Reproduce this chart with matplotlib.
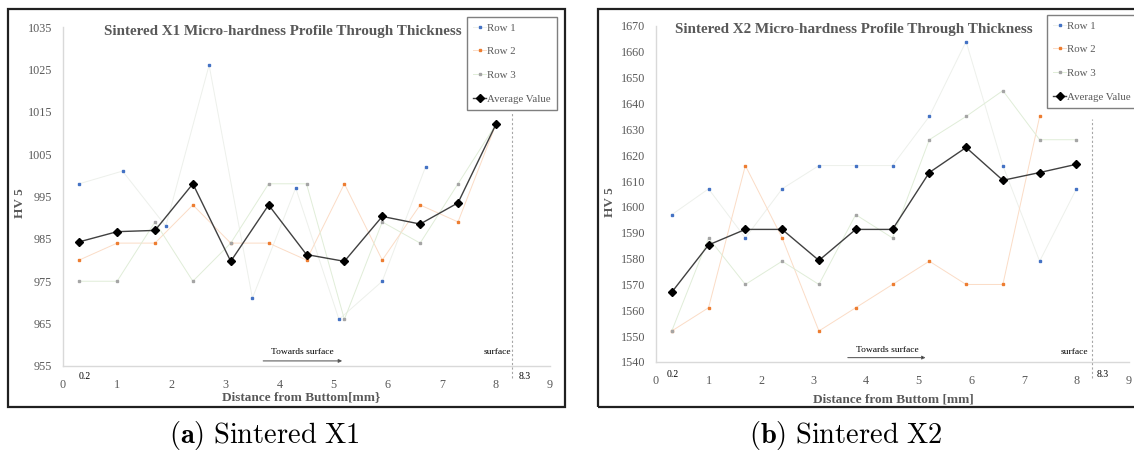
import matplotlib
matplotlib.use('Agg')
import matplotlib.pyplot as plt
from matplotlib.patches import Rectangle

# ---------------- data ----------------
x_pos = [0.3, 1.0, 1.7, 2.4, 3.1, 3.8, 4.5, 5.2, 5.9, 6.6, 7.3, 8.0]

x1_row1_x = [0.3, 1.1, 1.9, 2.7, 3.5, 4.3, 5.1, 5.9, 6.7]
x1_row1 = [998, 1001, 988, 1026, 971, 997, 966, 975, 1002]
x1_row2 = [980, 984, 984, 993, 984, 984, 980, 998, 980, 993, 989, 1012]
x1_row3 = [975, 975, 989, 975, 984, 998, 998, 966, 989, 984, 998, 1012]
x1_avg = [984.3, 986.7, 987.0, 998.0, 979.7, 993.0, 981.3, 979.7, 990.3, 988.5, 993.5, 1012.0]

x2_row1 = [1597, 1607, 1588, 1607, 1616, 1616, 1616, 1635, 1664, 1616, 1579, 1607]
x2_row2 = [1552, 1561, 1616, 1588, 1552, 1561, 1570, 1579, 1570, 1570, 1635]
x2_row3 = [1552, 1588, 1570, 1579, 1570, 1597, 1588, 1626, 1635, 1645, 1626, 1626]
x2_avg = [1567.0, 1585.3, 1591.3, 1591.3, 1579.3, 1591.3, 1591.3, 1613.3, 1623.0, 1610.3, 1613.3, 1616.5]

x_ticks = list(range(0, 10))
y1_ticks = list(range(955, 1036, 10))
y2_ticks = list(range(1540, 1671, 10))

series_labels = ['Row 1', 'Row 2', 'Row 3', 'Average Value']
titles = ['Sintered X1 Micro-hardness Profile Through Thickness',
          'Sintered X2 Micro-hardness Profile Through Thickness']
xlabels = ['Distance from Buttom[mm}', 'Distance from Buttom [mm]']
ylabel = 'HV 5'
captions = [r'$\mathbf{(a)}\ \mathrm{Sintered\ X1}$', r'$\mathbf{(b)}\ \mathrm{Sintered\ X2}$']

# ---------------- style ----------------
W, H = 1134, 459
plt.rcParams['font.family'] = ['Liberation Serif', 'DejaVu Serif']
plt.rcParams['mathtext.fontset'] = 'cm'

GRAY = '#595959'
C1, C2, C3 = '#4472C4', '#ED7D31', '#A5A5A5'
L1, L2, L3 = '#EDF0EB', '#FBDCC6', '#E0EDD8'

fig = plt.figure(figsize=(W / 100, H / 100), dpi=100)


def rect(x0, x1, ytop, ybot):
    return [x0 / W, 1 - ybot / H, (x1 - x0) / W, (ybot - ytop) / H]


def fx(px):
    return px / W


def fy(py):
    return 1 - py / H


# panel frames
fig.add_artist(Rectangle((fx(8), fy(407)), fx(565) - fx(8), fy(9) - fy(407),
                         transform=fig.transFigure, fill=False, ec='#202020', lw=1.6))
fig.add_artist(Rectangle((fx(598), fy(407)), fx(1145) - fx(598), fy(9) - fy(407),
                         transform=fig.transFigure, fill=False, ec='#202020', lw=1.6))

panels = [
    dict(rect=rect(63, 550, 27, 366), ylim=(955, 1035), yticks=y1_ticks,
         r1x=x1_row1_x, r1=x1_row1, r2=x1_row2, r3=x1_row3, avg=x1_avg,
         leg=(557, 17), title=(283, 31), xl=(301, 397), yl=(20, 203),
         dash=(952.2, 1014.7), arrow=(3.70, 5.16, 956.2), tow=(4.42, 958.4),
         surf=(8.02, 958.2), lab02=(0.41, -0.032), lab83=(8.54, -0.032)),
    dict(rect=rect(656, 1129, 26, 362), ylim=(1540, 1670), yticks=y2_ticks,
         r1x=x_pos, r1=x2_row1, r2=x2_row2, r3=x2_row3, avg=x2_avg,
         leg=(1137, 15), title=(854, 30), xl=(893, 399), yl=(610, 202),
         dash=(1533.8, 1634.0), arrow=(3.65, 5.13, 1541.7), tow=(4.41, 1544.6),
         surf=(7.97, 1544.0), lab02=(0.32, -0.036), lab83=(8.50, -0.036)),
]

for i, p in enumerate(panels):
    ax = fig.add_axes(p['rect'])
    ax.set_xlim(0, 9)
    ax.set_ylim(*p['ylim'])
    ax.set_xticks(x_ticks)
    ax.set_yticks(p['yticks'])
    ax.tick_params(length=0, labelsize=8.7, labelcolor=GRAY)
    ax.tick_params(axis='x', pad=9)
    ax.tick_params(axis='y', pad=8)
    for s in ['top', 'right']:
        ax.spines[s].set_visible(False)
    for s in ['left', 'bottom']:
        ax.spines[s].set_color('#D9D9D9')
        ax.spines[s].set_linewidth(1.0)

    ax.plot(p['r1x'], p['r1'], color=L1, lw=0.7, marker='s', ms=1.7,
            mfc=C1, mec=C1, label=series_labels[0])
    ax.plot(x_pos[:len(p['r2'])], p['r2'], color=L2, lw=0.7, marker='s', ms=1.7,
            mfc=C2, mec=C2, label=series_labels[1])
    ax.plot(x_pos[:len(p['r3'])], p['r3'], color=L3, lw=0.7, marker='s', ms=1.7,
            mfc=C3, mec=C3, label=series_labels[2])
    ax.plot(x_pos, p['avg'], color='#404040', lw=1.0, marker='D', ms=4.0,
            mfc='black', mec='black', label=series_labels[3], zorder=5)

    # surface line
    ax.plot([8.3, 8.3], p['dash'], color='#A6A6A6', lw=0.8, ls=(0, (2, 2)), clip_on=False)
    # arrow
    a0, a1, ay = p['arrow']
    ax.annotate('', xy=(a1, ay), xytext=(a0, ay),
                arrowprops=dict(arrowstyle='-|>', color='#7F7F7F', lw=0.8,
                                mutation_scale=5, shrinkA=0, shrinkB=0, fc='black', ec='#606060'))
    ax.text(p['tow'][0], p['tow'][1], 'Towards surface', fontsize=6.8, color='black',
            ha='center', va='center')
    ax.text(p['surf'][0], p['surf'][1], 'surface', fontsize=6.8, color='black',
            ha='center', va='center')
    tr = ax.get_xaxis_transform()
    ax.text(p['lab02'][0], p['lab02'][1], '0.2', fontsize=7, color='black',
            ha='center', va='center', transform=tr)
    ax.text(p['lab83'][0], p['lab83'][1], '8.3', fontsize=7, color='black',
            ha='center', va='center', transform=tr)

    lg = ax.legend(loc='upper right', bbox_to_anchor=(fx(p['leg'][0]), fy(p['leg'][1])),
                   bbox_transform=fig.transFigure, fancybox=False, framealpha=1,
                   edgecolor='#7F7F7F', fontsize=7.8, labelcolor=GRAY,
                   labelspacing=1.3, handlelength=1.2, handletextpad=0.1,
                   borderpad=0.55, borderaxespad=0)
    lg.get_frame().set_linewidth(1.0)

    fig.text(fx(p['title'][0]), fy(p['title'][1]), titles[i], fontsize=10.9,
             fontweight='bold', color=GRAY, ha='center', va='center')
    fig.text(fx(p['xl'][0]), fy(p['xl'][1]), xlabels[i], fontsize=9.5,
             fontweight='bold', color=GRAY, ha='center', va='center')
    fig.text(fx(p['yl'][0]), fy(p['yl'][1]), ylabel, fontsize=9.5, rotation=90,
             fontweight='bold', color=GRAY, ha='center', va='center')

fig.text(fx(264), fy(436), captions[0], fontsize=20.5, ha='center', va='center')
fig.text(fx(846), fy(436), captions[1], fontsize=20.5, ha='center', va='center')

fig.savefig('out.png', dpi=100, facecolor='white')
